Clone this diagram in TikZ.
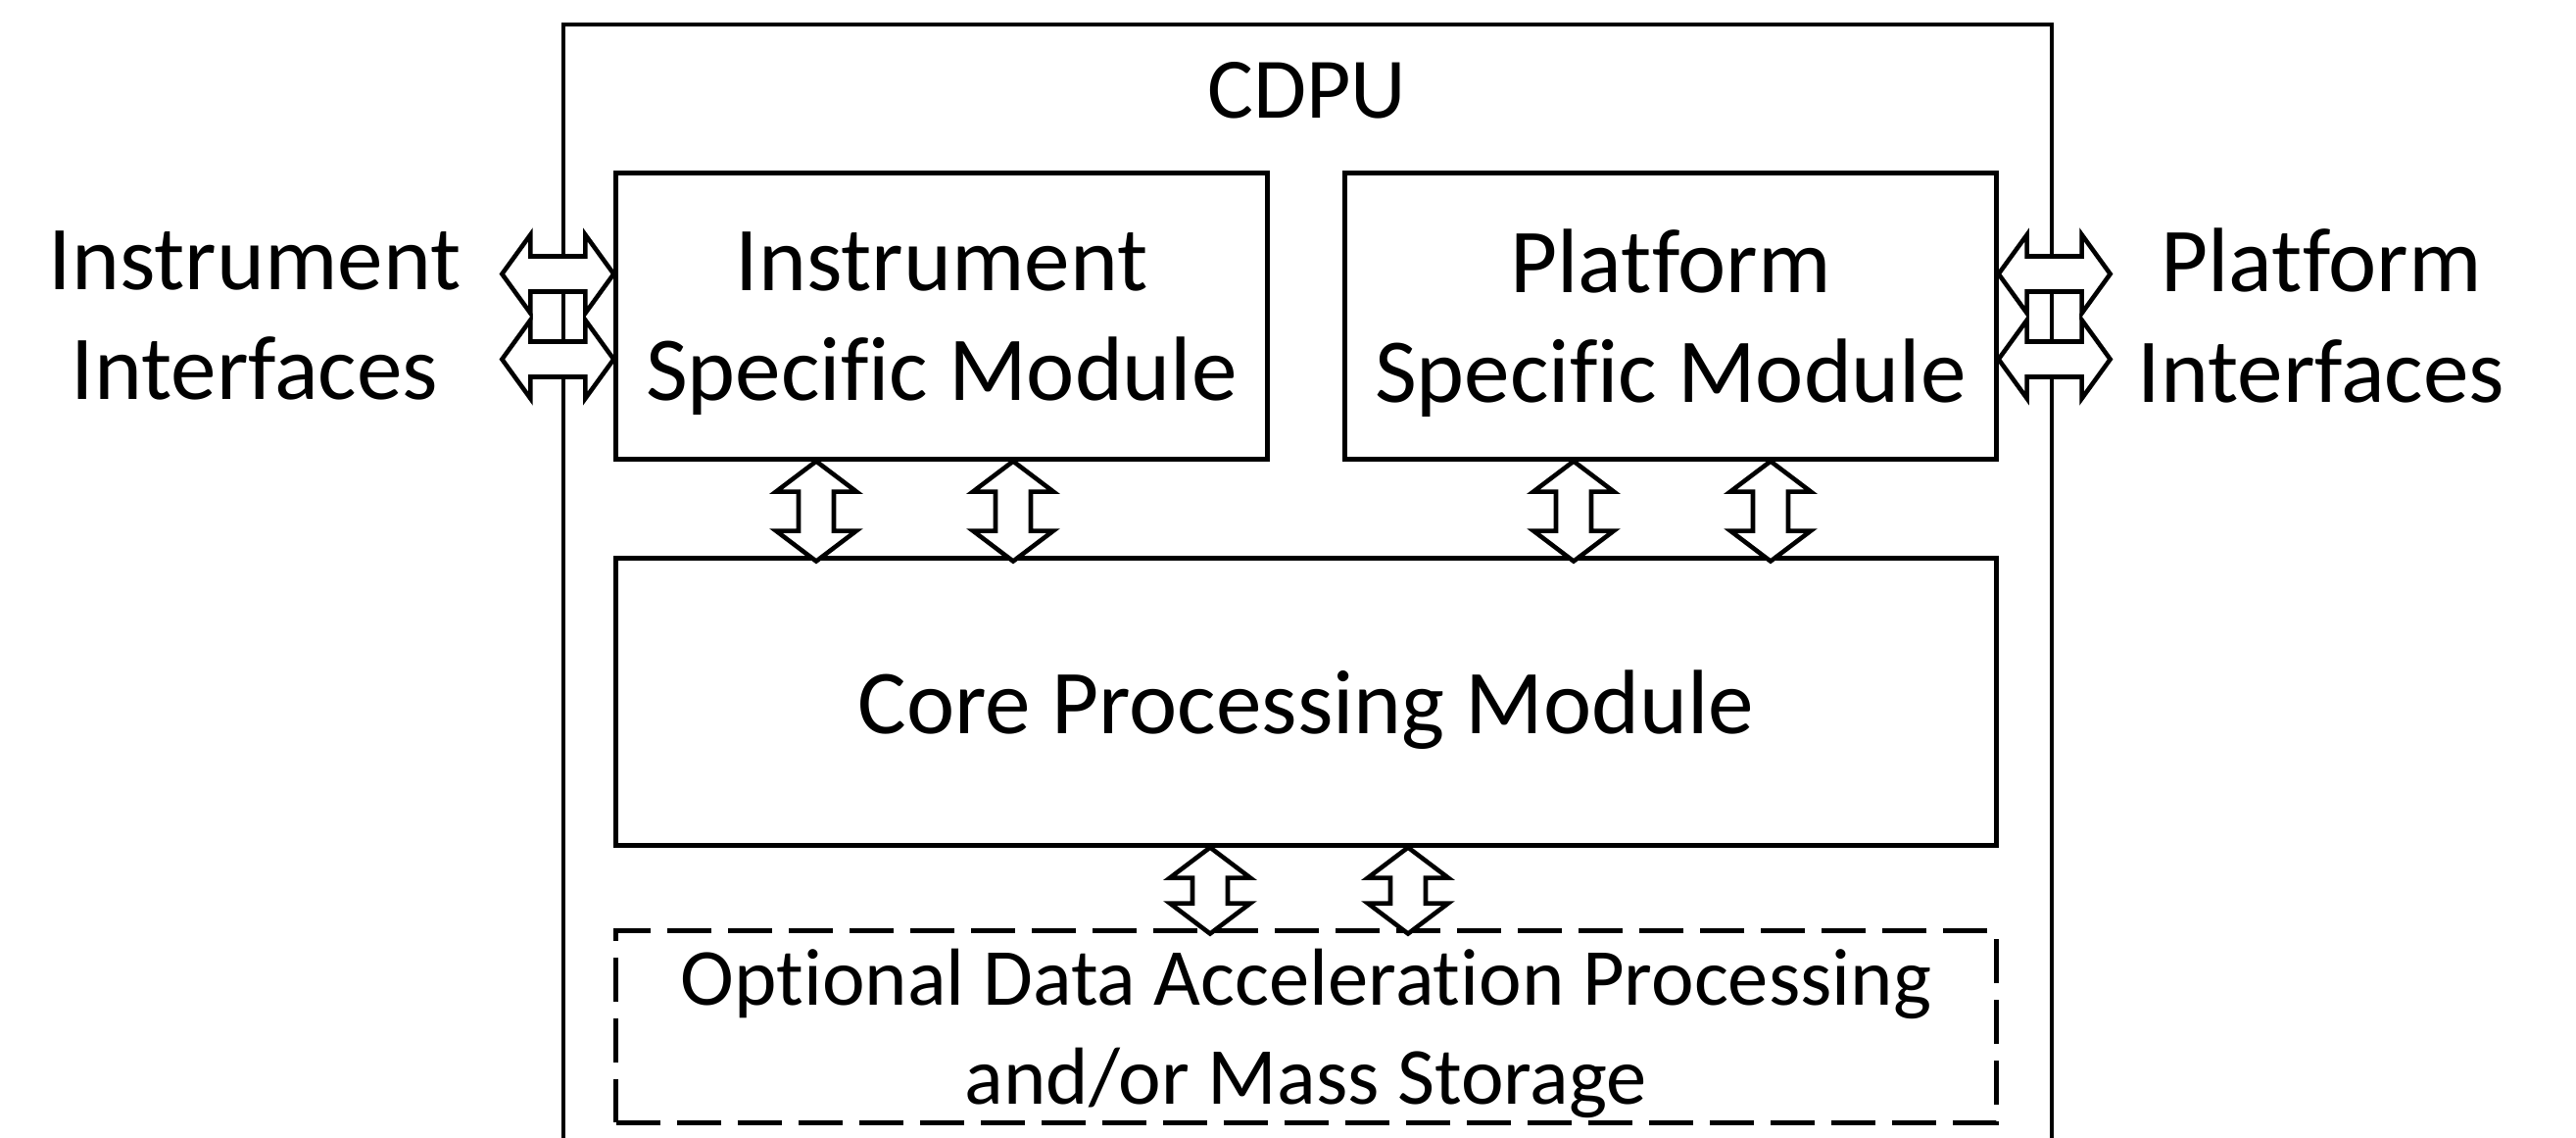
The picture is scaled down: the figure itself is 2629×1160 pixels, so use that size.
\documentclass[tikz,border=0pt]{standalone}
\usepackage{fontspec}
\setmainfont{Carlito}[Ligatures={NoCommon,NoRequired,NoContextual}]
\usepackage{tikz}
\usetikzlibrary{calc}

\tikzset{
  box/.style={draw, line width=1.4pt, rectangle, align=center, inner sep=0pt, text depth=0pt},
  optbox/.style={box, dash pattern=on 0.45cm off 0.17cm},
  arrowline/.style={draw, fill=white, line width=1.3pt, line join=miter},
  big/.style={font=\fontsize{26.5}{31.9}\selectfont},
  small/.style={font=\fontsize{23.5}{28.7}\selectfont},
}

\newcommand{\vdarrow}[2]{%
  \path[arrowline] #1 -- ++(-41,31) -- ++(23,0) -- ++(0,#2) -- ++(-23,0) -- ++(41,31)
    -- ++(41,-31) -- ++(-23,0) -- ++(0,-#2) -- ++(23,0) -- cycle;}
\newcommand{\hdarrow}[2]{%
  \path[arrowline] #1 -- ++({29*(#2)},-40) -- ++(0,22) -- ++({56*(#2)},0) -- ++(0,-22) -- ++({29*(#2)},40)
    -- ++({-29*(#2)},40) -- ++(0,-22) -- ++({-56*(#2)},0) -- ++(0,22) -- cycle;}

\begin{document}
\begin{tikzpicture}[x=0.01cm, y=-0.01cm]
\useasboundingbox (0,0) rectangle (2629,1160);
\draw[line width=1.4pt] (575,1170) -- (575,25) -- (2094,25) -- (2094,1170);
\node[font=\fontsize{25}{30}\selectfont, anchor=base] (cdpu) at (1334,120) {CDPU};
\node[box, big, minimum width=6.64cm, minimum height=2.91cm] (ism) at (961,322.5) {Instrument\\Specific Module};
\node[box, big, minimum width=6.64cm, minimum height=2.91cm] (psm) at (1705,322.5) {Platform\\Specific Module};
\node[box, big, minimum width=14.08cm, minimum height=2.92cm] (core) at (1333,716) {Core Processing Module};
\node[optbox, small, minimum width=14.08cm, minimum height=1.95cm] (opt) at (1333,1047.5) {Optional Data Acceleration Processing\\and/or Mass Storage};
\node[big, align=center] (instif) at (260,322) {Instrument\\Interfaces};
\node[big, align=center] (platif) at (2369,322) {Platform\\Interfaces};
\hdarrow{($(ism.west)+(0,-43)$)}{-1}
\hdarrow{($(ism.west)+(0,44)$)}{-1}
\hdarrow{($(psm.east)+(0,-43)$)}{1}
\hdarrow{($(psm.east)+(0,44)$)}{1}
\vdarrow{($(ism.south)+(-128,0)$)}{40}
\vdarrow{($(ism.south)+(73,0)$)}{40}
\vdarrow{($(psm.south)+(-99,0)$)}{40}
\vdarrow{($(psm.south)+(102,0)$)}{40}
\vdarrow{($(core.south)+(-98,0)$)}{26}
\vdarrow{($(core.south)+(104,0)$)}{26}
\end{tikzpicture}
\end{document}
